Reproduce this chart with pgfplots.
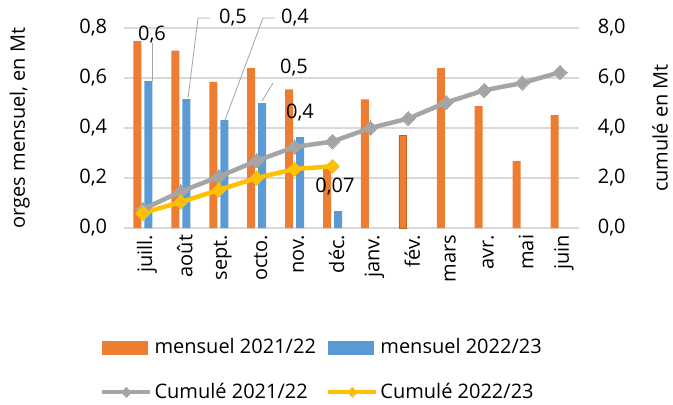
\documentclass[border=0pt]{standalone}
\usepackage{fontspec}
\setmainfont{Open Sans}
\usepackage{pgfplots}
\pgfplotsset{compat=1.18}
\definecolor{cOr}{HTML}{ED7D31}
\definecolor{cOrD}{HTML}{C0601F}
\definecolor{cBl}{HTML}{5B9BD5}
\definecolor{cGr}{HTML}{A5A5A5}
\definecolor{cYe}{HTML}{FFC000}
\definecolor{cGrid}{HTML}{D9D9D9}
\pgfplotsset{mylegline/.style={legend image code/.code={\draw[mark repeat=2,mark phase=2,##1, mark size=3.5bp] plot coordinates {(0bp,0bp) (24bp,0bp) (48bp,0bp)};}}}
\begin{document}
\fontsize{20bp}{24bp}\selectfont
\begin{tikzpicture}
\pgfplotsset{every axis/.append style={scale only axis, width=455bp, height=200bp,
  xmin=-0.5, xmax=11.5, axis line style={draw=none}, major tick length=0pt,
  font=\fontsize{20bp}{24bp}\selectfont, clip=false,
  /pgf/number format/assume math mode=true}}
\begin{axis}[ymin=0, ymax=0.8, ytick={0,0.2,0.4,0.6,0.8},
  ymajorgrids, grid style={cGrid, line width=1.2bp},
  yticklabel style={xshift=-10bp, /pgf/number format/.cd, fixed, fixed zerofill, precision=1, use comma},
  xtick={0,...,11},
  xticklabels={juill.,août,sept.,octo.,nov.,déc.,janv.,fév.,mars,avr.,mai,juin},
  xticklabel style={rotate=90, anchor=east, yshift=-4bp},
  ylabel={orges mensuel, en Mt},
  ylabel style={at={(axis description cs:-0.229,0.5)}, anchor=center},
  ybar, bar width=8bp]
\addplot[fill=cOr, draw=none, bar shift=-5.5bp] coordinates {(0,0.748) (1,0.71) (2,0.585) (3,0.64) (4,0.555) (5,0.25) (6,0.515) (7,0.37) (8,0.64) (9,0.488) (10,0.268) (11,0.452)};
\addplot[fill=cBl, draw=none, bar shift=5.5bp] coordinates {(0,0.588) (1,0.516) (2,0.432) (3,0.50) (4,0.364) (5,0.068)};
\addplot[fill=cOr, draw=cOrD, line width=0.8bp, bar width=7.2bp, bar shift=-5.5bp] coordinates {(7,0.37)};
\end{axis}
\begin{axis}[ymin=0, ymax=8, ytick={0,2,4,6,8}, axis y line*=right, xtick=\empty,
  yticklabel style={xshift=12bp, /pgf/number format/.cd, fixed, fixed zerofill, precision=1, use comma},
  ylabel={cumulé en Mt},
  ylabel style={at={(axis description cs:1.178,0.5)}, anchor=center},
  legend style={at={(axis description cs:0.435,-0.71)}, anchor=center, draw=none, fill=none,
    row sep=22bp, /tikz/every even column/.append style={column sep=8bp},
    font=\fontsize{20bp}{24bp}\selectfont},
  legend columns=2, legend cell align=left]
\addlegendimage{legend image code/.code={\fill[cOr] (0bp,-6.5bp) rectangle (45bp,6.5bp);}}
\addlegendentry{mensuel 2021/22}
\addlegendimage{legend image code/.code={\fill[cBl] (0bp,-6.5bp) rectangle (45bp,6.5bp);}}
\addlegendentry{mensuel 2022/23}
\addplot[cGr, line width=4.5bp, mark=square*, mark size=5bp, mark options={rotate=45, fill=cGr, line width=0pt}, mylegline]
  coordinates {(0,0.75) (1,1.46) (2,2.05) (3,2.69) (4,3.24) (5,3.46) (6,4.0) (7,4.38) (8,5.02) (9,5.51) (10,5.8) (11,6.23)};
\addlegendentry{Cumulé 2021/22}
\addplot[cYe, line width=4.5bp, mark=square*, mark size=5bp, mark options={rotate=45, fill=cYe, line width=0pt}, mylegline]
  coordinates {(0,0.6) (1,1.04) (2,1.52) (3,2.0) (4,2.36) (5,2.47)};
\addlegendentry{Cumulé 2022/23}
% data labels and leader lines
\draw[cGr, line width=0.8bp] (axis cs:0.238,7.4) -- (axis cs:0.238,5.88);
\draw[cGr, line width=0.8bp] (axis cs:1.768,8.4) -- (axis cs:1.452,8.4) -- (axis cs:1.188,5.2);
\draw[cGr, line width=0.8bp] (axis cs:3.482,8.4) -- (axis cs:3.166,8.4) -- (axis cs:2.164,4.32);
\draw[cGr, line width=0.8bp] (axis cs:3.43,5.8) -- (axis cs:3.14,5.08);
\node at (axis cs:0.238,7.72) {0,6};
\node at (axis cs:2.375,8.4) {0,5};
\node at (axis cs:4.01,8.4) {0,4};
\node at (axis cs:3.983,6.4) {0,5};
\node at (axis cs:4.142,4.6) {0,4};
\node at (axis cs:5.065,1.64) {0,07};
\end{axis}
\pgfresetboundingbox
\path (-124bp,-177bp) rectangle (549bp,228bp);
\end{tikzpicture}
\end{document}
